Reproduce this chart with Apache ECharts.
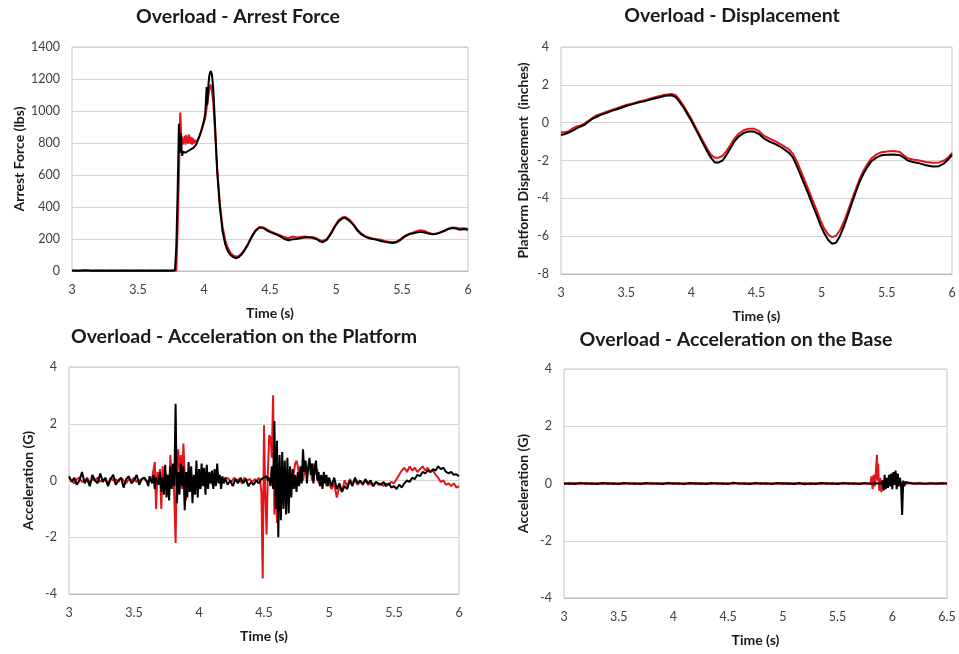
<!DOCTYPE html>
<html>
<head>
<meta charset="utf-8">
<script src="https://cdn.jsdelivr.net/npm/echarts@6/dist/echarts.min.js"></script>
<style>
  html, body { margin: 0; padding: 0; background: #fff; }
  #main { width: 959px; height: 654px; }
</style>
</head>
<body>
<div id="main"></div>
<script>
// time ticks
const timeTicks = [3, 3.5, 4, 4.5, 5, 5.5, 6];
const timeTicksBase = [3, 3.5, 4, 4.5, 5, 5.5, 6, 6.5];

// arrest force (lbs) [t, value]
const forceBlack = [[3.00,3],[3.05,2],[3.10,4],[3.15,2],[3.20,3],[3.25,1],[3.30,3],[3.35,2],[3.40,3],[3.45,2],[3.50,3],[3.55,2],[3.60,3],[3.65,2],[3.70,3],[3.75,2],[3.78,5],[3.79,150],[3.80,480],[3.81,920],[3.815,820],[3.82,740],[3.825,860],[3.83,760],[3.835,720],[3.84,745],[3.86,740],[3.88,750],[3.90,760],[3.92,770],[3.94,790],[3.96,830],[3.98,880],[4.00,940],[4.01,990],[4.02,1150],[4.025,1040],[4.03,1120],[4.035,1180],[4.04,1220],[4.05,1250],[4.06,1230],[4.07,1140],[4.08,980],[4.09,800],[4.10,620],[4.12,400],[4.14,250],[4.16,170],[4.18,125],[4.20,100],[4.22,88],[4.24,80],[4.26,85],[4.28,100],[4.30,120],[4.33,160],[4.36,210],[4.39,250],[4.42,272],[4.45,268],[4.48,252],[4.51,240],[4.55,228],[4.58,215],[4.61,200],[4.64,192],[4.67,198],[4.70,200],[4.73,205],[4.76,210],[4.79,210],[4.82,208],[4.85,200],[4.88,185],[4.90,180],[4.93,195],[4.96,230],[4.99,275],[5.02,310],[5.05,330],[5.07,332],[5.10,315],[5.13,290],[5.16,255],[5.19,230],[5.22,215],[5.25,205],[5.28,200],[5.31,195],[5.34,188],[5.37,182],[5.40,178],[5.43,175],[5.46,180],[5.49,195],[5.52,215],[5.55,228],[5.58,235],[5.61,240],[5.64,245],[5.67,240],[5.70,235],[5.73,230],[5.76,232],[5.79,240],[5.82,250],[5.85,262],[5.88,268],[5.91,265],[5.94,258],[5.97,262],[6.00,258]];
const forceRed = [[3.00,2],[3.05,3],[3.10,2],[3.15,3],[3.20,2],[3.25,3],[3.30,2],[3.35,3],[3.40,2],[3.45,3],[3.50,2],[3.55,3],[3.60,2],[3.65,3],[3.70,2],[3.75,3],[3.79,2],[3.80,250],[3.81,600],[3.82,990],[3.825,900],[3.83,800],[3.835,840],[3.84,790],[3.845,830],[3.85,800],[3.855,845],[3.86,790],[3.865,850],[3.87,800],[3.875,840],[3.88,795],[3.885,855],[3.89,800],[3.895,840],[3.90,795],[3.905,835],[3.91,790],[3.915,830],[3.92,795],[3.93,820],[3.94,800],[3.95,805],[3.97,850],[3.99,900],[4.01,960],[4.03,1080],[4.04,1130],[4.05,1165],[4.055,1160],[4.06,1130],[4.07,1050],[4.08,920],[4.09,780],[4.10,640],[4.12,420],[4.14,280],[4.16,195],[4.18,145],[4.20,115],[4.22,98],[4.24,90],[4.26,92],[4.28,105],[4.30,125],[4.33,165],[4.36,215],[4.39,255],[4.42,275],[4.45,272],[4.48,258],[4.51,245],[4.55,232],[4.58,222],[4.61,212],[4.64,205],[4.67,215],[4.70,210],[4.73,212],[4.76,215],[4.79,212],[4.82,212],[4.85,205],[4.88,192],[4.90,188],[4.93,200],[4.96,235],[4.99,280],[5.02,318],[5.05,336],[5.07,338],[5.10,322],[5.13,295],[5.16,262],[5.19,235],[5.22,218],[5.25,210],[5.28,202],[5.31,198],[5.34,195],[5.37,188],[5.40,183],[5.43,180],[5.46,185],[5.49,200],[5.52,220],[5.55,232],[5.58,240],[5.61,248],[5.64,255],[5.67,250],[5.70,240],[5.73,232],[5.76,235],[5.79,242],[5.82,252],[5.85,265],[5.88,272],[5.91,270],[5.94,265],[5.97,268],[6.00,262]];

// platform displacement (inches)
const dispBlack = [[3.00,-0.65],[3.03,-0.6],[3.06,-0.52],[3.09,-0.42],[3.12,-0.3],[3.15,-0.2],[3.18,-0.12],[3.21,0.05],[3.24,0.2],[3.27,0.3],[3.30,0.4],[3.35,0.52],[3.40,0.65],[3.45,0.75],[3.50,0.88],[3.55,0.98],[3.60,1.08],[3.65,1.15],[3.70,1.25],[3.75,1.33],[3.80,1.42],[3.85,1.45],[3.88,1.35],[3.91,1.1],[3.94,0.8],[3.97,0.45],[4.00,0.1],[4.03,-0.3],[4.06,-0.7],[4.09,-1.1],[4.12,-1.5],[4.15,-1.85],[4.18,-2.1],[4.21,-2.1],[4.24,-2.0],[4.27,-1.7],[4.30,-1.35],[4.33,-1.0],[4.36,-0.75],[4.40,-0.55],[4.44,-0.47],[4.48,-0.47],[4.52,-0.6],[4.56,-0.85],[4.60,-1.0],[4.65,-1.15],[4.70,-1.35],[4.75,-1.6],[4.78,-1.85],[4.81,-2.3],[4.84,-2.8],[4.87,-3.3],[4.90,-3.8],[4.93,-4.35],[4.96,-4.85],[4.99,-5.4],[5.02,-5.85],[5.05,-6.2],[5.08,-6.4],[5.11,-6.35],[5.14,-6.0],[5.17,-5.5],[5.20,-4.9],[5.23,-4.3],[5.26,-3.7],[5.29,-3.15],[5.32,-2.7],[5.35,-2.35],[5.38,-2.05],[5.42,-1.85],[5.46,-1.72],[5.50,-1.7],[5.55,-1.68],[5.60,-1.72],[5.63,-1.85],[5.66,-2.0],[5.70,-2.08],[5.75,-2.15],[5.80,-2.25],[5.85,-2.32],[5.90,-2.3],[5.94,-2.15],[5.97,-1.95],[6.00,-1.7]];
const dispRed = [[3.00,-0.5],[3.03,-0.5],[3.06,-0.45],[3.09,-0.3],[3.12,-0.2],[3.15,-0.15],[3.18,-0.05],[3.21,0.1],[3.24,0.25],[3.27,0.38],[3.30,0.45],[3.35,0.58],[3.40,0.7],[3.45,0.82],[3.50,0.93],[3.55,1.02],[3.60,1.12],[3.65,1.2],[3.70,1.3],[3.75,1.4],[3.80,1.48],[3.85,1.52],[3.88,1.45],[3.91,1.2],[3.94,0.9],[3.97,0.55],[4.00,0.2],[4.03,-0.2],[4.06,-0.6],[4.09,-0.98],[4.12,-1.35],[4.15,-1.7],[4.18,-1.85],[4.21,-1.85],[4.24,-1.75],[4.27,-1.5],[4.30,-1.18],[4.33,-0.85],[4.36,-0.6],[4.40,-0.4],[4.44,-0.32],[4.48,-0.32],[4.52,-0.45],[4.56,-0.7],[4.60,-0.85],[4.65,-1.0],[4.70,-1.2],[4.75,-1.42],[4.78,-1.65],[4.81,-2.05],[4.84,-2.55],[4.87,-3.05],[4.90,-3.55],[4.93,-4.1],[4.96,-4.6],[4.99,-5.15],[5.02,-5.6],[5.05,-5.92],[5.08,-6.05],[5.11,-5.98],[5.14,-5.7],[5.17,-5.25],[5.20,-4.7],[5.23,-4.1],[5.26,-3.55],[5.29,-3.0],[5.32,-2.55],[5.35,-2.2],[5.38,-1.9],[5.42,-1.68],[5.46,-1.56],[5.50,-1.52],[5.55,-1.5],[5.60,-1.55],[5.63,-1.72],[5.66,-1.88],[5.70,-1.95],[5.75,-2.0],[5.80,-2.08],[5.85,-2.12],[5.90,-2.1],[5.94,-2.0],[5.97,-1.85],[6.00,-1.6]];

// acceleration on the platform (G)
const platBlack = [[3.00,0.15],[3.02,-0.05],[3.04,0.1],[3.06,-0.15],[3.08,0.0],[3.10,0.3],[3.12,-0.1],[3.14,0.05],[3.16,-0.2],[3.18,0.2],[3.20,0.0],[3.22,-0.1],[3.24,0.25],[3.26,-0.05],[3.28,0.1],[3.30,-0.2],[3.32,0.05],[3.34,0.2],[3.36,-0.15],[3.38,0.0],[3.40,0.1],[3.42,-0.25],[3.44,0.05],[3.46,0.15],[3.48,-0.1],[3.50,0.0],[3.52,0.2],[3.54,-0.15],[3.56,0.05],[3.58,0.1],[3.60,-0.05],
  [3.61,-0.2],[3.62,0.15],[3.63,0.0],[3.64,-0.1],[3.65,0.2],[3.66,-0.3],[3.67,0.1],[3.68,0.05],[3.69,-0.15],
  [3.70,0.3],[3.71,-0.4],[3.72,0.1],[3.73,-0.5],[3.74,0.55],[3.75,-0.6],[3.76,0.2],[3.77,-0.7],[3.78,0.5],[3.79,-0.3],[3.80,0.6],[3.81,-0.2],[3.82,2.7],[3.83,-0.8],[3.84,0.3],[3.85,-0.5],[3.86,0.6],[3.87,-0.2],[3.88,0.5],[3.89,-1.05],[3.90,0.3],[3.91,-0.6],[3.92,0.65],[3.93,-0.4],[3.94,0.5],[3.95,-0.8],[3.96,0.2],[3.97,-0.5],[3.98,0.7],[3.99,-0.6],[4.00,0.4],[4.01,-0.3],[4.02,0.6],[4.03,-0.2],[4.04,0.45],[4.05,-0.5],[4.06,0.55],[4.07,-0.3],[4.08,0.3],[4.09,-0.1],[4.10,0.35],
  [4.11,-0.3],[4.12,0.4],[4.13,-0.2],[4.14,0.6],[4.15,-0.1],[4.16,0.2],[4.17,-0.3],[4.18,0.15],[4.19,-0.1],[4.20,0.1],
  [4.22,-0.15],[4.24,0.0],[4.26,-0.2],[4.28,0.05],[4.30,-0.1],[4.32,0.1],[4.34,-0.1],[4.36,0.05],[4.38,-0.2],[4.40,-0.05],[4.42,-0.15],[4.44,0.0],[4.46,-0.1],[4.48,0.05],[4.50,0.1],[4.52,0.15],
  [4.53,0.0],[4.54,0.1],[4.55,-0.2],[4.56,0.5],[4.57,-0.3],[4.58,2.1],[4.59,-1.0],[4.60,1.4],[4.61,-2.0],[4.62,0.9],[4.63,-1.4],[4.64,1.0],[4.65,-1.0],[4.66,0.7],[4.67,-1.2],[4.68,0.8],[4.69,-1.15],[4.70,0.5],[4.71,-0.6],[4.72,0.4],[4.73,-0.3],[4.74,0.2],[4.75,-0.4],[4.76,0.3],[4.77,-0.2],[4.78,0.5],[4.79,-0.1],[4.80,1.1],
  [4.81,0.3],[4.82,0.7],[4.83,-0.1],[4.84,0.5],[4.85,0.8],[4.86,0.2],[4.87,0.6],[4.88,-0.1],[4.89,0.4],[4.90,0.7],[4.91,0.0],[4.92,0.3],[4.93,-0.2],[4.94,0.2],[4.95,-0.3],[4.96,0.3],[4.97,-0.1],[4.98,0.2],[4.99,-0.2],[5.00,0.1],
  [5.02,-0.2],[5.04,0.1],[5.06,-0.3],[5.08,-0.1],[5.10,-0.4],[5.12,-0.2],[5.14,-0.3],[5.16,0.0],[5.18,-0.2],[5.20,0.1],[5.22,-0.1],[5.24,0.0],[5.26,-0.15],[5.28,0.05],[5.30,-0.1],[5.32,0.0],[5.34,-0.2],[5.36,-0.05],[5.38,-0.1],[5.40,-0.15],[5.42,-0.05],[5.44,-0.2],[5.46,-0.1],[5.48,-0.25],[5.50,-0.2],[5.52,-0.3],[5.54,-0.15],[5.56,-0.25],[5.58,-0.1],[5.60,0.0],
  [5.62,-0.05],[5.64,0.1],[5.66,0.05],[5.68,0.2],[5.70,0.15],[5.72,0.3],[5.74,0.25],[5.76,0.35],[5.78,0.3],[5.80,0.4],[5.82,0.35],[5.84,0.5],[5.86,0.4],[5.88,0.45],[5.90,0.3],[5.92,0.25],[5.94,0.3],[5.96,0.2],[5.98,0.22],[6.00,0.15]];
const platRed = [[3.00,0.1],[3.02,0.0],[3.04,-0.1],[3.06,0.05],[3.08,0.1],[3.10,-0.05],[3.12,0.0],[3.14,0.1],[3.16,-0.1],[3.18,0.05],[3.20,0.0],[3.22,0.1],[3.24,-0.05],[3.26,0.05],[3.28,0.0],[3.30,-0.1],[3.32,0.1],[3.34,0.0],[3.36,0.05],[3.38,-0.05],[3.40,0.1],[3.42,0.0],[3.44,-0.1],[3.46,0.05],[3.48,0.0],[3.50,0.1],[3.52,-0.05],[3.54,0.0],[3.56,0.05],[3.58,0.1],[3.60,-0.05],[3.62,0.0],[3.64,0.1],
  [3.65,0.1],[3.66,0.65],[3.67,-1.0],[3.68,0.3],[3.69,0.0],[3.70,0.4],[3.71,-1.0],[3.72,0.5],[3.73,-0.2],[3.74,0.3],[3.75,0.0],[3.76,0.2],[3.77,-0.3],[3.78,0.9],[3.79,0.1],[3.80,0.5],[3.81,-0.6],[3.82,-2.2],[3.83,0.5],[3.84,1.1],[3.85,0.2],[3.86,0.9],[3.87,-0.3],[3.88,1.3],[3.89,0.2],[3.90,-0.7],[3.91,0.3],[3.92,-0.4],[3.93,0.2],[3.94,-0.2],[3.95,0.1],
  [3.97,-0.1],[3.99,0.2],[4.01,-0.3],[4.03,0.1],[4.05,-0.2],[4.07,0.15],[4.09,0.0],[4.11,-0.2],[4.13,0.1],[4.15,0.0],[4.17,0.1],[4.19,-0.1],[4.21,0.1],[4.23,0.05],[4.25,-0.05],[4.27,0.1],[4.29,0.0],[4.31,0.05],[4.33,-0.1],[4.35,0.1],[4.37,0.0],[4.39,0.05],[4.41,-0.05],[4.43,0.05],[4.45,0.0],
  [4.46,0.1],[4.47,0.0],[4.48,-0.4],[4.49,-3.45],[4.50,1.95],[4.51,-0.5],[4.52,-1.9],[4.53,0.3],[4.54,1.6],[4.55,1.5],[4.56,0.8],[4.57,3.0],[4.58,-1.2],[4.59,0.9],[4.60,-1.5],[4.61,0.6],[4.62,-1.0],[4.63,0.4],[4.64,-0.8],[4.65,0.3],[4.66,-0.4],[4.67,0.2],[4.68,-0.3],[4.69,0.1],[4.70,-0.2],
  [4.71,0.1],[4.72,0.0],[4.73,0.3],[4.74,0.6],[4.75,0.7],[4.76,0.5],[4.77,0.1],[4.78,-0.1],[4.79,0.2],[4.80,0.0],[4.81,0.3],[4.82,0.5],[4.83,0.2],[4.84,0.4],[4.85,0.6],[4.86,0.3],[4.87,0.0],[4.88,0.5],[4.89,0.6],[4.90,0.2],[4.91,0.4],[4.92,-0.1],[4.93,0.1],[4.94,-0.2],[4.95,0.0],[4.96,-0.1],[4.97,0.1],[4.98,-0.2],[4.99,0.0],[5.00,-0.1],
  [5.02,-0.3],[5.04,-0.1],[5.06,-0.6],[5.08,-0.2],[5.10,-0.4],[5.12,0.0],[5.14,-0.2],[5.16,0.05],[5.18,-0.1],[5.20,0.0],[5.22,-0.15],[5.24,-0.05],[5.26,-0.1],[5.28,0.0],[5.30,-0.15],[5.32,-0.1],[5.34,-0.2],[5.36,-0.05],[5.38,-0.15],[5.40,-0.1],[5.42,-0.2],[5.44,-0.1],[5.46,-0.15],[5.48,-0.05],[5.50,-0.1],[5.52,0.05],[5.54,0.2],[5.56,0.35],[5.58,0.45],[5.60,0.3],[5.62,0.5],[5.64,0.35],[5.66,0.45],[5.68,0.3],[5.70,0.4],[5.72,0.5],[5.74,0.35],[5.76,0.45],[5.78,0.3],[5.80,0.35],[5.82,0.2],[5.84,0.1],[5.86,-0.05],[5.88,0.0],[5.90,-0.15],[5.92,-0.1],[5.94,-0.2],[5.96,-0.1],[5.98,-0.25],[6.00,-0.2]];

// acceleration on the base (G)
const baseRed = [[3.00,0.01],[3.05,-0.02],[3.10,0.02],[3.15,-0.01],[3.20,0.02],[3.25,-0.02],[3.30,0.01],[3.35,-0.01],[3.40,0.02],[3.45,-0.02],[3.50,0.01],[3.55,-0.01],[3.60,0.02],[3.65,-0.02],[3.70,0.01],[3.75,-0.01],[3.80,0.02],[3.85,-0.02],[3.90,0.01],[3.95,-0.01],[4.00,0.02],[4.05,-0.02],[4.10,0.01],[4.15,-0.01],[4.20,0.02],[4.25,-0.02],[4.30,0.01],[4.35,-0.01],[4.40,0.02],[4.45,-0.02],[4.50,0.01],[4.55,-0.01],[4.60,0.02],[4.65,-0.02],[4.70,0.01],[4.75,-0.01],[4.80,0.02],[4.85,-0.02],[4.90,0.01],[4.95,-0.01],[5.00,0.02],[5.05,-0.02],[5.10,0.01],[5.15,-0.01],[5.20,0.02],[5.25,-0.02],[5.30,0.01],[5.35,-0.01],[5.40,0.02],[5.45,-0.02],[5.50,0.01],[5.55,-0.01],[5.60,0.02],[5.65,-0.02],[5.70,0.01],[5.75,-0.01],[5.80,0.0],
  [5.81,0.25],[5.82,-0.2],[5.83,0.3],[5.84,-0.1],[5.85,0.4],[5.86,1.0],[5.865,0.1],[5.87,0.7],[5.88,-0.25],[5.89,0.2],[5.90,-0.3],[5.91,0.1],[5.92,0.0],[6.00,0.01],[6.10,-0.01],[6.20,0.01],[6.30,-0.01],[6.40,0.01],[6.50,0.0]];
const baseBlack = [[3.00,-0.01],[3.05,0.01],[3.10,-0.02],[3.15,0.02],[3.20,-0.01],[3.25,0.01],[3.30,-0.02],[3.35,0.02],[3.40,-0.01],[3.45,0.01],[3.50,-0.02],[3.55,0.02],[3.60,-0.01],[3.65,0.01],[3.70,-0.02],[3.75,0.02],[3.80,-0.01],[3.85,0.01],[3.90,-0.02],[3.95,0.02],[4.00,-0.01],[4.05,0.01],[4.10,-0.02],[4.15,0.02],[4.20,-0.01],[4.25,0.01],[4.30,-0.02],[4.35,0.02],[4.40,-0.01],[4.45,0.01],[4.50,-0.02],[4.55,0.03],[4.60,-0.01],[4.65,0.01],[4.70,-0.02],[4.75,0.02],[4.80,-0.01],[4.85,0.01],[4.90,-0.02],[4.95,0.02],[5.00,-0.01],[5.05,0.01],[5.10,-0.02],[5.15,0.02],[5.20,-0.03],[5.25,0.01],[5.30,-0.02],[5.35,0.02],[5.40,-0.01],[5.45,0.01],[5.50,-0.02],[5.55,0.02],[5.60,-0.01],[5.65,0.01],[5.70,-0.02],[5.75,0.02],[5.80,-0.01],[5.85,0.01],[5.90,0.0],
  [5.91,0.1],[5.92,-0.25],[5.93,0.3],[5.94,-0.2],[5.95,0.2],[5.96,-0.15],[5.97,0.3],[5.98,-0.1],[5.99,0.35],[6.00,-0.2],[6.01,0.4],[6.02,-0.05],[6.03,0.45],[6.04,-0.2],[6.05,0.35],[6.06,-0.1],[6.07,0.2],[6.08,-0.05],[6.09,-1.1],[6.10,0.1],[6.11,-0.1],[6.12,0.05],[6.13,0.0],[6.15,0.03],[6.20,-0.01],[6.25,0.01],[6.30,-0.01],[6.35,0.01],[6.40,-0.01],[6.45,0.01],[6.50,0.0]];

const RED = '#e3151a';
const BLACK = '#000000';
const FONT = 'Lato';

const myChart = echarts.init(document.getElementById('main'));

// plot areas: [left, top, width, height]
const boxes = [
  [72, 47, 396, 224],
  [561, 47, 391, 227],
  [69, 367, 390, 227],
  [564, 369, 383, 229]
];
const titles = [
  ['Overload - Arrest Force', 238, 7],
  ['Overload - Displacement', 732, 6],
  ['Overload - Acceleration on the Platform', 244, 327],
  ['Overload - Acceleration on the Base', 736, 330]
];
const yNames = ['Arrest Force (lbs)', 'Platform Displacement  (inches)', 'Acceleration (G)', 'Acceleration (G)'];
const yNameGaps = [46, 31, 34, 34];
const yRanges = [[0, 1400, 200], [-8, 4, 2], [-4, 4, 2], [-4, 4, 2]];
const xMax = [timeTicks[timeTicks.length - 1], timeTicks[timeTicks.length - 1], timeTicks[timeTicks.length - 1], timeTicksBase[timeTicksBase.length - 1]];

function line(data, color, idx) {
  return {
    type: 'line', data: data, xAxisIndex: idx, yAxisIndex: idx,
    showSymbol: false, smooth: false,
    lineStyle: { color: color, width: 2 }, itemStyle: { color: color },
    z: color === BLACK ? 3 : 2
  };
}

const option = {
  animation: false,
  backgroundColor: '#fff',
  textStyle: { fontFamily: FONT },
  title: titles.map(t => ({
    text: t[0], left: t[1], top: t[2], textAlign: 'center', padding: 0,
    textStyle: { fontFamily: FONT, fontWeight: 'bold', fontSize: 19.5, color: '#1a1a1a' }
  })),
  grid: boxes.map(b => ({
    left: b[0], top: b[1], width: b[2], height: b[3],
    show: true, borderColor: '#c4c4c4', borderWidth: 1, containLabel: false
  })),
  xAxis: boxes.map((b, i) => ({
    type: 'value', gridIndex: i, min: 3, max: xMax[i], interval: 0.5,
    name: 'Time (s)', nameLocation: 'middle', nameGap: 35,
    nameTextStyle: { fontFamily: FONT, fontWeight: 'bold', fontSize: 14, color: '#1a1a1a' },
    axisLine: { show: true, onZero: false, lineStyle: { color: '#bfbfbf', width: 1 } },
    axisTick: { show: false },
    splitLine: { show: false },
    axisLabel: { fontFamily: FONT, fontSize: 12.5, color: '#404040', margin: 12, formatter: v => String(v) }
  })),
  yAxis: boxes.map((b, i) => ({
    type: 'value', gridIndex: i, min: yRanges[i][0], max: yRanges[i][1], interval: yRanges[i][2],
    name: yNames[i], nameLocation: 'middle', nameGap: yNameGaps[i], nameRotate: 90,
    nameTextStyle: { fontFamily: FONT, fontWeight: 'bold', fontSize: 14, color: '#1a1a1a' },
    axisLine: { show: false },
    axisTick: { show: false },
    splitLine: { show: true, lineStyle: { color: '#d4d4d4', width: 1 } },
    axisLabel: { fontFamily: FONT, fontSize: 12.5, color: '#404040', margin: 12, formatter: v => String(v) }
  })),
  series: [
    line(forceRed, RED, 0), line(forceBlack, BLACK, 0),
    line(dispBlack, BLACK, 1), line(dispRed, RED, 1),
    line(platRed, RED, 2), line(platBlack, BLACK, 2),
    line(baseRed, RED, 3), line(baseBlack, BLACK, 3)
  ]
};

myChart.setOption(option);
</script>
</body>
</html>
